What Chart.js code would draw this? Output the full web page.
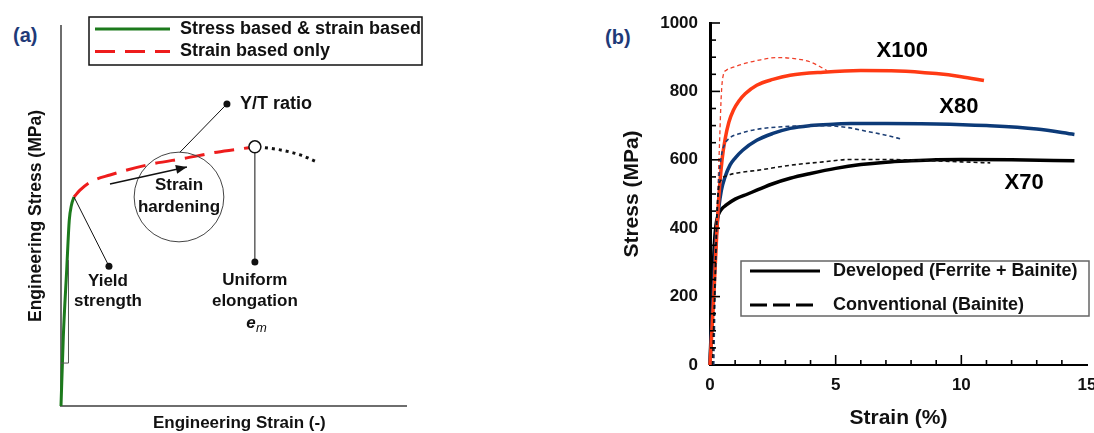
<!DOCTYPE html>
<html>
<head>
<meta charset="utf-8">
<script src="https://cdn.jsdelivr.net/npm/chart.js@4.4.1/dist/chart.umd.min.js"></script>
<style>
  html,body{margin:0;padding:0;background:#fff;overflow:hidden;width:1094px;height:433px;}
  .wrap{position:absolute;top:0;height:433px;}
  #wa{left:0;width:440px;}
  #wb{left:560px;width:560px;}
  .tag{position:absolute;font:bold 20px "Liberation Sans",Arial,sans-serif;color:#1f3a78;}
</style>
</head>
<body>
<div class="tag" style="left:13px;top:24px">(a)</div>
<div class="tag" style="left:605px;top:26px">(b)</div>
<div class="wrap" id="wa"><canvas id="chartA"></canvas></div>
<div class="wrap" id="wb"><canvas id="chartB"></canvas></div>
<script>
// ---- panel (a): schematic engineering stress-strain curve (arbitrary units 0..100)
const elasticX = [0, 0.67, 1.65, 2.4, 3.04, 3.77];
const elasticY = [0, 18.2, 35.8, 48.9, 52.9, 55];
const hardenX = [3.77, 5.5, 8.4, 14.2, 24.9, 36.5, 45.2, 53.9, 56.2];
const hardenY = [55, 56.8, 58.9, 60.8, 63.4, 65.3, 66.8, 67.9, 68.2];
const neckX = [57.1, 63.5, 69.3, 74.2];
const neckY = [68.2, 67.4, 66.1, 64.2];

// ---- panel (b): strain (%) vs stress (MPa)
const xTickLabels = [0, 5, 10, 15];
const yTickLabels = [0, 200, 400, 600, 800, 1000];
const x100DevX = [0, 0.15, 0.28, 0.38, 0.48, 0.6, 0.75, 0.93, 1.15, 1.4, 1.86, 2.5, 3.19, 4.5, 6, 7.5, 9, 10, 10.9];
const x100DevY = [0, 200, 400, 520, 600, 660, 710, 745, 772, 793, 818, 835, 847, 856, 861, 860, 852, 843, 832];
const x100ConvX = [0.05, 0.2, 0.3, 0.38, 0.45, 0.52, 0.65, 0.9, 1.3, 1.86, 2.66, 3.2, 4, 4.65];
const x100ConvY = [0, 250, 480, 650, 790, 845, 862, 870, 880, 890, 899, 897, 886, 861];
const x80DevX = [0, 0.12, 0.25, 0.35, 0.45, 0.6, 0.8, 1, 1.3, 1.86, 2.5, 3.19, 4, 4.9, 5.6, 7, 9, 11, 13, 14.5];
const x80DevY = [0, 200, 380, 460, 510, 550, 585, 605, 628, 657, 677, 692, 700, 704, 706, 706, 705, 700, 690, 674];
const x80ConvX = [0.15, 0.2, 0.27, 0.35, 0.45, 0.58, 0.75, 1.2, 1.86, 3.19, 4.5, 5.5, 6.25, 7, 7.65];
const x80ConvY = [0, 200, 400, 540, 610, 645, 662, 677, 689, 698, 700, 694, 683, 672, 660];
const x70DevX = [0, 0.1, 0.17, 0.24, 0.32, 0.45, 0.65, 1, 1.5, 1.86, 2.5, 3.19, 4, 5, 6, 7, 8, 9, 10, 12, 14.5];
const x70DevY = [0, 220, 350, 410, 437, 455, 468, 485, 500, 511, 530, 546, 560, 575, 586, 593, 597, 600, 601, 600, 597];
const x70ConvX = [0.1, 0.2, 0.28, 0.35, 0.45, 0.66, 1.2, 1.86, 3.19, 4.5, 5.58, 7, 8.5, 10, 11.15];
const x70ConvY = [0, 250, 450, 520, 542, 553, 563, 569, 584, 594, 601, 601, 598, 594, 591];

const FONT = '"Liberation Sans", Arial, sans-serif';
Chart.defaults.font.family = FONT;
Chart.defaults.color = '#111';

const pts = (xs, ys) => xs.map((x, i) => ({x: x, y: ys[i]}));

function txt(ctx, s, x, y, size, align, style){
  ctx.font = (style || 'bold') + ' ' + size + 'px ' + FONT;
  ctx.textAlign = align || 'center';
  ctx.textBaseline = 'middle';
  ctx.fillText(s, x, y);
}
function dot(ctx, x, y){
  ctx.beginPath(); ctx.arc(x, y, 3.5, 0, Math.PI*2); ctx.fill();
}

// annotations for (a)
const annotateA = {
  id: 'annotateA',
  afterDraw(chart){
    const ctx = chart.ctx, xs = chart.scales.x, ys = chart.scales.y;
    const P = (x, y) => [xs.getPixelForValue(x), ys.getPixelForValue(y)];
    ctx.save();
    ctx.fillStyle = '#111'; ctx.strokeStyle = '#111'; ctx.lineWidth = 1;

    // x axis title (sits a little right of the axis centre)
    txt(ctx, 'Engineering Strain (-)', xs.getPixelForValue(51.7), 423, 17);

    // small bracket near the elastic line
    ctx.strokeStyle = '#555';
    ctx.beginPath();
    let a = P(2.17, 38.4), b = P(2.17, 11.3), c = P(0, 11.3);
    ctx.moveTo(a[0], a[1]); ctx.lineTo(b[0], b[1]); ctx.lineTo(c[0], c[1]); ctx.stroke();
    ctx.strokeStyle = '#111';

    // yield strength
    const yp = P(elasticX[elasticX.length-1], elasticY[elasticY.length-1]);
    const yd = P(13.9, 36.8);
    ctx.beginPath(); ctx.moveTo(yp[0], yp[1]); ctx.lineTo(yd[0], yd[1]); ctx.stroke();
    dot(ctx, yd[0], yd[1]);
    txt(ctx, 'Yield', yd[0]-1, ys.getPixelForValue(32.9), 17);
    txt(ctx, 'strength', yd[0]-1, ys.getPixelForValue(27.6), 17);

    // strain hardening circle
    const cc = P(34.2, 55);
    const r = xs.getPixelForValue(13) - xs.getPixelForValue(0);
    ctx.strokeStyle = '#444';
    ctx.beginPath(); ctx.arc(cc[0], cc[1], r, 0, Math.PI*2); ctx.stroke();
    ctx.strokeStyle = '#111';
    txt(ctx, 'Strain', cc[0], ys.getPixelForValue(58.2), 17);
    txt(ctx, 'hardening', cc[0], ys.getPixelForValue(52.4), 17);

    // arrow
    const a0 = P(14.2, 58.4), a1 = P(36.5, 62.9);
    ctx.lineWidth = 1.5;
    ctx.beginPath(); ctx.moveTo(a0[0], a0[1]); ctx.lineTo(a1[0], a1[1]); ctx.stroke();
    const ang = Math.atan2(a1[1]-a0[1], a1[0]-a0[0]);
    ctx.beginPath();
    ctx.moveTo(a1[0], a1[1]);
    ctx.lineTo(a1[0]-11*Math.cos(ang)+4.5*Math.sin(ang), a1[1]-11*Math.sin(ang)-4.5*Math.cos(ang));
    ctx.lineTo(a1[0]-11*Math.cos(ang)-4.5*Math.sin(ang), a1[1]-11*Math.sin(ang)+4.5*Math.cos(ang));
    ctx.closePath(); ctx.fill();
    ctx.lineWidth = 1;

    // Y/T ratio
    const td = P(48.1, 79.5), tl = P(34.5, 66.8);
    ctx.beginPath(); ctx.moveTo(td[0], td[1]); ctx.lineTo(tl[0], tl[1]); ctx.stroke();
    dot(ctx, td[0], td[1]);
    txt(ctx, 'Y/T ratio', xs.getPixelForValue(51.9), td[1], 18, 'left');

    // uniform elongation
    const up = P(hardenX[hardenX.length-1], hardenY[hardenY.length-1]);
    const ud = P(hardenX[hardenX.length-1], 37.9);
    ctx.beginPath(); ctx.moveTo(up[0], up[1]+6); ctx.lineTo(ud[0], ud[1]); ctx.stroke();
    dot(ctx, ud[0], ud[1]);
    txt(ctx, 'Uniform', ud[0], ys.getPixelForValue(33.2), 17);
    txt(ctx, 'elongation', ud[0], ys.getPixelForValue(27.6), 17);
    const ey = ys.getPixelForValue(21.8);
    txt(ctx, 'e', ud[0]-4, ey, 17, 'center', 'italic bold');
    txt(ctx, 'm', ud[0]+1, ey+5, 13, 'left', 'italic');

    // open circle at UTS
    ctx.fillStyle = '#fff'; ctx.lineWidth = 1.5;
    ctx.beginPath(); ctx.arc(up[0], up[1], 6, 0, Math.PI*2); ctx.fill(); ctx.stroke();

    // legend box
    const ds = chart.data.datasets;
    ctx.lineWidth = 1.5; ctx.strokeStyle = '#111'; ctx.fillStyle = '#fff';
    ctx.fillRect(89, 17, 333, 48); ctx.strokeRect(89, 17, 333, 48);
    [0, 1].forEach((k, i) => {
      const y = 29 + i*22.5;
      ctx.save();
      ctx.strokeStyle = ds[k].borderColor; ctx.lineWidth = 3;
      ctx.setLineDash(ds[k].borderDash || []);
      ctx.beginPath(); ctx.moveTo(95, y); ctx.lineTo(170, y); ctx.stroke();
      ctx.restore();
      ctx.fillStyle = '#111';
      txt(ctx, ds[k].label, 180, y, 18, 'left');
    });
    ctx.restore();
  }
};

new Chart(document.getElementById('chartA'), {
  type: 'line',
  data: {
    datasets: [
      {label: 'Stress based & strain based', data: pts(elasticX, elasticY), borderColor: '#1c7a1c', borderWidth: 3, cubicInterpolationMode: 'monotone', pointRadius: 0, clip: false},
      {label: 'Strain based only', data: pts(hardenX, hardenY), borderColor: '#ee1c1c', borderWidth: 3, borderDash: [20, 10], cubicInterpolationMode: 'monotone', pointRadius: 0, clip: false},
      {label: 'Necking', data: pts(neckX, neckY), borderColor: '#111', borderWidth: 3, borderDash: [3, 4], cubicInterpolationMode: 'monotone', pointRadius: 0, clip: false}
    ]
  },
  options: {
    responsive: true, maintainAspectRatio: false, animation: false,
    layout: {padding: {left: 25.8, top: 26, right: 34, bottom: 0}},
    plugins: {legend: {display: false}, tooltip: {enabled: false}},
    scales: {
      x: {type: 'linear', min: 0, max: 100,
        grid: {display: false, drawTicks: false}, ticks: {display: false},
        border: {display: true, color: '#6e6e6e', width: 2},
        title: {display: false},
        afterFit: s => { s.height = 27; }},
      y: {type: 'linear', min: 0, max: 100,
        grid: {display: false, drawTicks: false}, ticks: {display: false},
        border: {display: true, color: '#6e6e6e', width: 2},
        title: {display: true, text: 'Engineering Stress (MPa)', font: {size: 17.5, weight: 'bold'}, color: '#111', padding: {top: 0, bottom: 0}},
        afterFit: s => { s.width = 35.2; }}
    }
  },
  plugins: [annotateA]
});

// extras for (b): minor ticks, grade labels, legend
const annotateB = {
  id: 'annotateB',
  afterDraw(chart){
    const ctx = chart.ctx, xs = chart.scales.x, ys = chart.scales.y, ca = chart.chartArea;
    ctx.save();
    ctx.strokeStyle = '#000'; ctx.fillStyle = '#000';
    ctx.lineWidth = 1.6;
    for (let v = 50; v <= 1000; v += 50) {
      const y = ys.getPixelForValue(v);
      const major = yTickLabels.includes(v);
      ctx.beginPath(); ctx.moveTo(ca.left, y); ctx.lineTo(ca.left + (major ? 10 : 6), y); ctx.stroke();
    }
    for (let v = 1; v < 15; v += 1) {
      const x = xs.getPixelForValue(v);
      const major = xTickLabels.includes(v);
      ctx.beginPath(); ctx.moveTo(x, ca.bottom); ctx.lineTo(x, ca.bottom - (major ? 10 : 5)); ctx.stroke();
    }
    txt(ctx, 'X100', xs.getPixelForValue(7.65), ys.getPixelForValue(917), 22);
    txt(ctx, 'X80', xs.getPixelForValue(9.9), ys.getPixelForValue(756), 22);
    txt(ctx, 'X70', xs.getPixelForValue(12.5), ys.getPixelForValue(531), 22);

    // legend
    const lx = ca.left + 31, ly = ca.top + 238;
    ctx.fillStyle = '#fff'; ctx.fillRect(lx, ly, 348, 55);
    ctx.strokeStyle = '#666'; ctx.lineWidth = 1.5; ctx.strokeRect(lx, ly, 348, 55);
    ctx.strokeStyle = '#000'; ctx.lineWidth = 3;
    ctx.beginPath(); ctx.moveTo(lx + 9, ly + 10); ctx.lineTo(lx + 79, ly + 10); ctx.stroke();
    ctx.setLineDash([17, 6]);
    ctx.beginPath(); ctx.moveTo(lx + 9, ly + 44); ctx.lineTo(lx + 72, ly + 44); ctx.stroke();
    ctx.setLineDash([]);
    ctx.fillStyle = '#111';
    txt(ctx, 'Developed (Ferrite + Bainite)', lx + 92, ly + 10, 18, 'left');
    txt(ctx, 'Conventional (Bainite)', lx + 92, ly + 44, 18, 'left');
    ctx.restore();
  }
};

const solid = (label, xs, ys, color) => ({label: label, data: pts(xs, ys), borderColor: color, borderWidth: 3.5,
  cubicInterpolationMode: 'monotone', pointRadius: 0, clip: false});
const dashed = (label, xs, ys, color, w) => ({label: label, data: pts(xs, ys), borderColor: color, borderWidth: w,
  borderDash: [4, 3], cubicInterpolationMode: 'monotone', pointRadius: 0, clip: false});

new Chart(document.getElementById('chartB'), {
  type: 'line',
  data: {
    datasets: [
      dashed('X70 conventional', x70ConvX, x70ConvY, '#111', 1.6),
      dashed('X80 conventional', x80ConvX, x80ConvY, '#1d3f75', 1.6),
      dashed('X100 conventional', x100ConvX, x100ConvY, '#f0402a', 1.3),
      solid('X100 developed', x100DevX, x100DevY, '#ff3a14'),
      solid('X80 developed', x80DevX, x80DevY, '#0c3a78'),
      solid('X70 developed', x70DevX, x70DevY, '#000')
    ]
  },
  options: {
    responsive: true, maintainAspectRatio: false, animation: false,
    layout: {padding: {left: 55.4, top: 23, right: 33, bottom: 0}},
    plugins: {legend: {display: false}, tooltip: {enabled: false}},
    scales: {
      x: {type: 'linear', min: 0, max: 15,
        afterBuildTicks: s => { s.ticks = xTickLabels.map(v => ({value: v})); },
        grid: {display: false, drawTicks: false},
        border: {display: true, color: '#000', width: 2},
        ticks: {font: {size: 17, weight: 'bold'}, color: '#111', padding: 10, maxRotation: 0, callback: v => String(v)},
        title: {display: true, text: 'Strain (%)', font: {size: 21, weight: 'bold'}, color: '#111', padding: {top: 0, bottom: 2}},
        afterFit: s => { s.height = 68; }},
      y: {type: 'linear', min: 0, max: 1000,
        afterBuildTicks: s => { s.ticks = yTickLabels.map(v => ({value: v})); },
        grid: {display: false, drawTicks: false},
        border: {display: true, color: '#000', width: 3},
        ticks: {font: {size: 17, weight: 'bold'}, color: '#111', padding: 12, callback: v => String(v)},
        title: {display: true, text: 'Stress (MPa)', font: {size: 21, weight: 'bold'}, color: '#111', padding: {top: 4, bottom: 4}},
        afterFit: s => { s.width = 94.6; }}
    }
  },
  plugins: [annotateB]
});
</script>
</body>
</html>
